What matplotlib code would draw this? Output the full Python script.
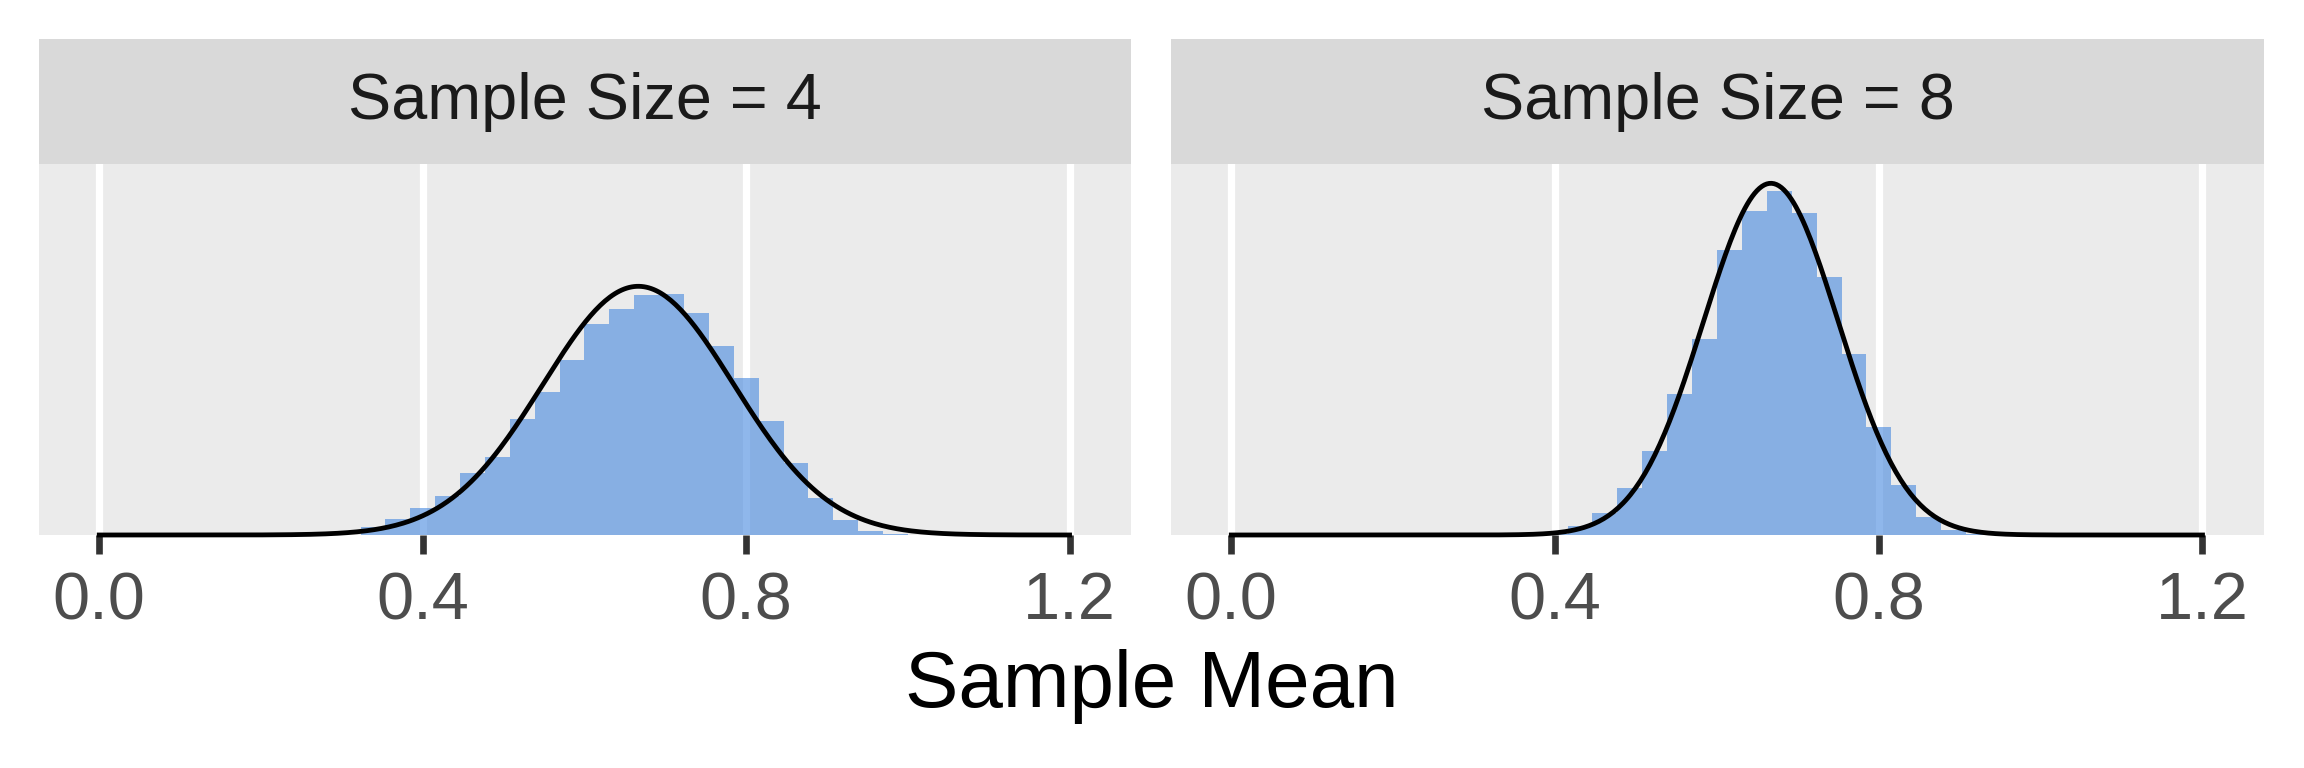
import numpy as np
import matplotlib
matplotlib.use("Agg")
import matplotlib.pyplot as plt

plt.rcParams['font.family'] = ['Liberation Sans', 'DejaVu Sans']

# data
panel_titles = ["Sample Size = 4", "Sample Size = 8"]
sample_sizes = [4, 8]
bin_start = 0.3232
bin_width = 0.03077
# histogram densities, one per bin
dens_n4 = [0.11, 0.22, 0.37, 0.53, 0.84, 1.06, 1.58, 1.95, 2.38, 2.87, 3.08,
           3.27, 3.28, 3.02, 2.57, 2.14, 1.55, 0.98, 0.50, 0.20, 0.05, 0.01]
dens_n8 = [0.0, 0.0, 0.01, 0.12, 0.30, 0.64, 1.14, 1.92, 2.67, 3.88, 4.41,
           4.68, 4.38, 3.51, 2.46, 1.47, 0.68, 0.24, 0.07, 0.01, 0.0, 0.0]
pop_mean = 2 / 3
pop_sd = np.sqrt(1 / 18)
x_ticks = [0.0, 0.4, 0.8, 1.2]
x_ticklabels = ["0.0", "0.4", "0.8", "1.2"]

W, H = 2304, 768
fig = plt.figure(figsize=(12, 4), dpi=192)

def px_box(x0, y0, x1, y1):
    # pixel box (top-left origin) -> figure fraction
    return [x0 / W, 1 - y1 / H, (x1 - x0) / W, (y1 - y0) / H]

panels = [(39, 1131), (1171, 2264)]
strip_top, strip_bot, panel_bot = 39, 164, 535

edges = bin_start + bin_width * np.arange(len(dens_n4))
xs = np.linspace(0, 1.2, 400)

for (x0, x1), title, n, dens in zip(panels, panel_titles, sample_sizes, [dens_n4, dens_n8]):
    ax = fig.add_axes(px_box(x0, strip_bot, x1, panel_bot))
    ax.set_facecolor("#EBEBEB")
    for t in x_ticks:
        ax.axvline(t, color="white", lw=2.7, zorder=0)
    ax.bar(edges, dens, width=bin_width, align="edge", color=(68/255, 135/255, 222/255),
           alpha=0.6, linewidth=0, zorder=1)
    sd = pop_sd / np.sqrt(n)
    ys = np.exp(-0.5 * ((xs - pop_mean) / sd) ** 2) / (sd * np.sqrt(2 * np.pi))
    ax.plot(xs, ys, color="black", lw=1.8, zorder=2, clip_on=False)
    ax.set_xlim(-0.0745, 1.276)
    ax.set_ylim(0, 5.05)
    ax.set_xticks(x_ticks)
    ax.set_xticklabels(x_ticklabels)
    ax.set_yticks([])
    ax.tick_params(axis="x", length=7, width=2.5, color="#333333", labelcolor="#4D4D4D",
                   labelsize=25, pad=6.5)
    for s in ax.spines.values():
        s.set_visible(False)

    sax = fig.add_axes(px_box(x0, strip_top, x1, strip_bot))
    sax.set_facecolor("#D9D9D9")
    sax.set_xticks([])
    sax.set_yticks([])
    for s in sax.spines.values():
        s.set_visible(False)
    sax.text(0.5, 0.5, title, ha="center", va="center", fontsize=24.3, color="#1A1A1A",
             transform=sax.transAxes)

fig.text((39 + 2264) / 2 / W, 1 - 686 / H, "Sample Mean", ha="center", va="center",
         fontsize=30, color="black")

fig.savefig("out.png", dpi=192, facecolor="white")
